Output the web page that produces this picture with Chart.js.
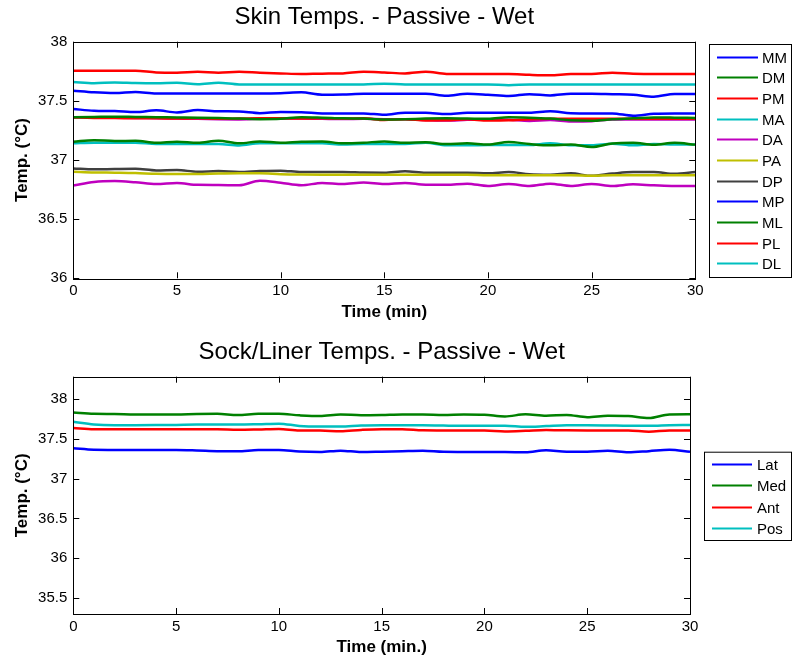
<!DOCTYPE html>
<html>
<head>
<meta charset="utf-8">
<script src="https://cdn.jsdelivr.net/npm/chart.js@4.4.1/dist/chart.umd.min.js"></script>
<style>
  body { margin: 0; background: #fff; }
  #wrap { position: relative; width: 793px; height: 660px; }
  canvas { position: absolute; left: 0; }
  #skin { top: 0; }
  #sock { top: 330px; }
</style>
</head>
<body>
<div id="wrap">
  <canvas id="skin" width="793" height="330"></canvas>
  <canvas id="sock" width="793" height="330"></canvas>
</div>
<script>
// time axis (minutes)
const minutes = [0,1,2,3,4,5,6,7,8,9,10,11,12,13,14,15,16,17,18,19,20,21,22,23,24,25,26,27,28,29,30];
const xTicks = [0,5,10,15,20,25,30];
const skinYTicks = [36,36.5,37,37.5,38];
const sockYTicks = [35.5,36,36.5,37,37.5,38];

// skin sensor temperatures (°C)
const skinLabels = ['MM','DM','PM','MA','DA','PA','DP','MP','ML','PL','DL'];
const MM = [37.586,37.572,37.566,37.575,37.563,37.563,37.563,37.563,37.563,37.563,37.565,37.572,37.552,37.554,37.560,37.560,37.560,37.560,37.543,37.560,37.552,37.541,37.556,37.546,37.560,37.560,37.556,37.552,37.535,37.558,37.558];
const DM = [37.362,37.364,37.366,37.364,37.362,37.360,37.358,37.355,37.350,37.345,37.348,37.362,37.358,37.352,37.350,37.343,37.345,37.350,37.352,37.350,37.348,37.362,37.358,37.350,37.336,37.332,37.345,37.352,37.360,37.358,37.355];
const PM = [37.755,37.755,37.755,37.755,37.740,37.738,37.746,37.738,37.746,37.738,37.732,37.727,37.730,37.732,37.746,37.740,37.732,37.746,37.728,37.727,37.727,37.727,37.720,37.716,37.727,37.727,37.738,37.730,37.727,37.727,37.727];
const MA = [37.659,37.648,37.656,37.650,37.648,37.652,37.641,37.653,37.639,37.639,37.639,37.639,37.639,37.639,37.639,37.645,37.639,37.639,37.639,37.639,37.639,37.632,37.639,37.639,37.639,37.639,37.639,37.639,37.639,37.639,37.639];
const DA = [36.785,36.815,36.822,36.812,36.797,36.806,36.790,36.789,36.786,36.825,36.808,36.786,36.806,36.797,36.810,36.797,36.806,36.791,36.791,36.800,36.780,36.797,36.780,36.800,36.780,36.797,36.780,36.794,36.786,36.780,36.780];
const PA = [36.901,36.895,36.893,36.890,36.883,36.881,36.881,36.885,36.887,36.887,36.880,36.877,36.876,36.876,36.876,36.876,36.876,36.876,36.876,36.876,36.872,36.872,36.872,36.872,36.872,36.866,36.872,36.872,36.872,36.872,36.872];
const DP = [36.929,36.921,36.924,36.926,36.912,36.915,36.901,36.906,36.898,36.906,36.910,36.898,36.898,36.898,36.894,36.893,36.905,36.893,36.893,36.893,36.887,36.898,36.880,36.876,36.887,36.866,36.885,36.898,36.898,36.883,36.898];
const MP = [37.431,37.417,37.414,37.405,37.420,37.402,37.422,37.412,37.410,37.396,37.405,37.404,37.394,37.394,37.394,37.382,37.400,37.400,37.388,37.400,37.400,37.400,37.400,37.412,37.396,37.394,37.394,37.374,37.390,37.394,37.394];
const ML = [37.155,37.168,37.160,37.163,37.146,37.155,37.146,37.163,37.141,37.157,37.146,37.155,37.157,37.141,37.146,37.157,37.145,37.150,37.135,37.141,37.130,37.152,37.135,37.124,37.130,37.110,37.140,37.145,37.128,37.145,37.130];
const PL = [37.360,37.356,37.355,37.352,37.352,37.350,37.352,37.348,37.350,37.352,37.352,37.350,37.352,37.350,37.352,37.338,37.345,37.334,37.335,37.345,37.333,37.335,37.345,37.348,37.348,37.348,37.348,37.348,37.348,37.348,37.348];
const DL = [37.141,37.146,37.146,37.146,37.135,37.135,37.135,37.135,37.123,37.141,37.141,37.141,37.141,37.130,37.135,37.135,37.135,37.146,37.124,37.124,37.127,37.127,37.127,37.141,37.124,37.124,37.138,37.124,37.135,37.130,37.130];
// a twelfth trace is plotted but has no legend entry
const unlabeled = [37.362,37.360,37.358,37.356,37.352,37.350,37.348,37.344,37.343,37.348,37.350,37.350,37.348,37.346,37.348,37.345,37.344,37.338,37.333,37.340,37.343,37.340,37.330,37.338,37.326,37.328,37.343,37.343,37.343,37.343,37.343];

// sock/liner temperatures (°C), bottom panel
const sockLabels = ['Lat','Med','Ant','Pos'];
const Lat = [37.381,37.362,37.360,37.360,37.360,37.360,37.354,37.345,37.343,37.360,37.360,37.340,37.334,37.351,37.334,37.339,37.345,37.350,37.336,37.334,37.334,37.334,37.330,37.355,37.339,37.339,37.350,37.330,37.345,37.362,37.336];
const Med = [37.831,37.814,37.812,37.806,37.806,37.806,37.812,37.814,37.798,37.814,37.814,37.795,37.785,37.805,37.797,37.800,37.806,37.806,37.800,37.806,37.802,37.781,37.808,37.790,37.800,37.772,37.790,37.785,37.760,37.806,37.808];
const Ant = [37.637,37.621,37.621,37.621,37.621,37.621,37.621,37.621,37.614,37.618,37.624,37.604,37.604,37.595,37.612,37.621,37.621,37.606,37.604,37.604,37.604,37.592,37.600,37.612,37.606,37.604,37.604,37.604,37.590,37.604,37.604];
const Pos = [37.713,37.680,37.671,37.671,37.672,37.675,37.680,37.680,37.680,37.684,37.690,37.662,37.655,37.655,37.668,37.671,37.671,37.670,37.666,37.663,37.663,37.663,37.650,37.660,37.671,37.671,37.668,37.663,37.663,37.670,37.675];

const FONT = '"Liberation Sans", Arial, Helvetica, sans-serif';
const matlabColors = ['#0000ff','#008000','#ff0000','#00bfbf','#bf00bf','#bfbf00','#404040'];

function series(label, values, i) {
  return {
    label,
    data: minutes.map((t, k) => ({ x: t, y: values[k] })),
    borderColor: matlabColors[i % matlabColors.length],
    borderWidth: 2.5,
    pointRadius: 0,
    cubicInterpolationMode: 'monotone',
    fill: false
  };
}

// draws the MATLAB-style box, inward ticks on all sides
const boxAxes = {
  id: 'boxAxes',
  afterDatasetsDraw(chart) {
    const { ctx, chartArea: a, scales: { x, y } } = chart;
    const len = 6;
    ctx.save();
    ctx.strokeStyle = '#000';
    ctx.lineWidth = 1;
    ctx.beginPath();
    x.ticks.forEach(t => {
      const px = Math.round(x.getPixelForValue(t.value)) + 0.5;
      ctx.moveTo(px, a.bottom); ctx.lineTo(px, a.bottom - len);
      ctx.moveTo(px, a.top); ctx.lineTo(px, a.top + len);
    });
    y.ticks.forEach(t => {
      const py = Math.round(y.getPixelForValue(t.value)) + 0.5;
      ctx.moveTo(a.left, py); ctx.lineTo(a.left + len, py);
      ctx.moveTo(a.right, py); ctx.lineTo(a.right - len, py);
    });
    ctx.stroke();
    ctx.strokeRect(Math.round(a.left) + 0.5, Math.round(a.top) + 0.5,
      Math.round(a.right - a.left), Math.round(a.bottom - a.top));
    ctx.restore();
  }
};

// legend in a framed box, like MATLAB's
const boxLegend = {
  id: 'boxLegend',
  afterDraw(chart, args, opts) {
    const { ctx } = chart;
    ctx.save();
    ctx.fillStyle = '#fff';
    ctx.fillRect(opts.left, opts.top, opts.right - opts.left, opts.bottom - opts.top);
    ctx.strokeStyle = '#000';
    ctx.lineWidth = 1;
    ctx.strokeRect(opts.left + 0.5, opts.top + 0.5, opts.right - opts.left, opts.bottom - opts.top);
    ctx.font = '15px ' + FONT;
    ctx.textBaseline = 'middle';
    let row = 0;
    chart.data.datasets.forEach(ds => {
      if (!ds.label) return;
      const yy = Math.round(opts.firstRow + row * opts.rowStep) + 0.5;
      ctx.strokeStyle = ds.borderColor;
      ctx.lineWidth = 2;
      ctx.beginPath();
      ctx.moveTo(opts.lineFrom, yy);
      ctx.lineTo(opts.lineTo, yy);
      ctx.stroke();
      ctx.fillStyle = '#000';
      ctx.fillText(ds.label, opts.textX, yy + 1);
      row++;
    });
    ctx.restore();
  }
};

function makeOptions(cfg) {
  return {
    responsive: false,
    animation: false,
    devicePixelRatio: 1,
    layout: { padding: { left: 0, top: 0, bottom: 0, right: cfg.padRight } },
    plugins: {
      legend: { display: false },
      tooltip: { enabled: false },
      title: {
        display: true,
        fullSize: false,
        text: cfg.title,
        color: '#000',
        font: { family: FONT, size: 24, weight: 'normal' },
        padding: cfg.titlePad
      },
      boxLegend: cfg.legend
    },
    scales: {
      x: {
        type: 'linear',
        min: 0,
        max: 30,
        grid: { display: false, drawTicks: false },
        border: { display: false },
        afterBuildTicks: s => { s.ticks = xTicks.map(v => ({ value: v })); },
        afterFit: s => { s.height = cfg.xHeight; },
        ticks: { color: '#000', font: { family: FONT, size: 15 }, padding: 4, maxRotation: 0, callback: v => String(v) },
        title: {
          display: true,
          text: cfg.xTitle,
          color: '#000',
          font: { family: FONT, size: 17, weight: 'bold' },
          padding: { top: 0, bottom: cfg.xTitlePad }
        }
      },
      y: {
        min: cfg.yMin,
        max: cfg.yMax,
        grid: { display: false, drawTicks: false },
        border: { display: false },
        afterBuildTicks: s => { s.ticks = cfg.yTicks.map(v => ({ value: v })); },
        afterFit: s => { s.width = 73.3; },
        ticks: { color: '#000', font: { family: FONT, size: 15 }, padding: 6, callback: v => String(v) },
        title: {
          display: true,
          text: 'Temp. (°C)',
          color: '#000',
          font: { family: FONT, size: 17, weight: 'bold' },
          padding: { top: 11.8, bottom: 0 }
        }
      }
    }
  };
}

const skinSets = [MM, DM, PM, MA, DA, PA, DP, MP, ML, PL, DL].map((v, i) => series(skinLabels[i], v, i));
skinSets.push(series('', unlabeled, 11));

new Chart(document.getElementById('skin'), {
  type: 'line',
  data: { datasets: skinSets },
  options: makeOptions({
    title: 'Skin Temps. - Passive - Wet',
    titlePad: { top: 3.1, bottom: 9.8 },
    padRight: 97.7,
    xHeight: 51.7,
    xTitle: 'Time (min)',
    xTitlePad: 7.3,
    yMin: 36, yMax: 38, yTicks: skinYTicks,
    legend: { left: 709, top: 44, right: 791, bottom: 277, firstRow: 56.7, rowStep: 20.67, lineFrom: 717, lineTo: 758, textX: 762 }
  }),
  plugins: [boxAxes, boxLegend]
});

new Chart(document.getElementById('sock'), {
  type: 'line',
  data: { datasets: [Lat, Med, Ant, Pos].map((v, i) => series(sockLabels[i], v, i)) },
  options: makeOptions({
    title: 'Sock/Liner Temps. - Passive - Wet',
    titlePad: { top: 8.1, bottom: 9.8 },
    padRight: 103,
    xHeight: 46,
    xTitle: 'Time (min.)',
    xTitlePad: 2.8,
    yMin: 35.3, yMax: 38.28, yTicks: sockYTicks,
    legend: { left: 704, top: 121.7, right: 791, bottom: 210, firstRow: 134.3, rowStep: 21.1, lineFrom: 712, lineTo: 752, textX: 757 }
  }),
  plugins: [boxAxes, boxLegend]
});
</script>
</body>
</html>
